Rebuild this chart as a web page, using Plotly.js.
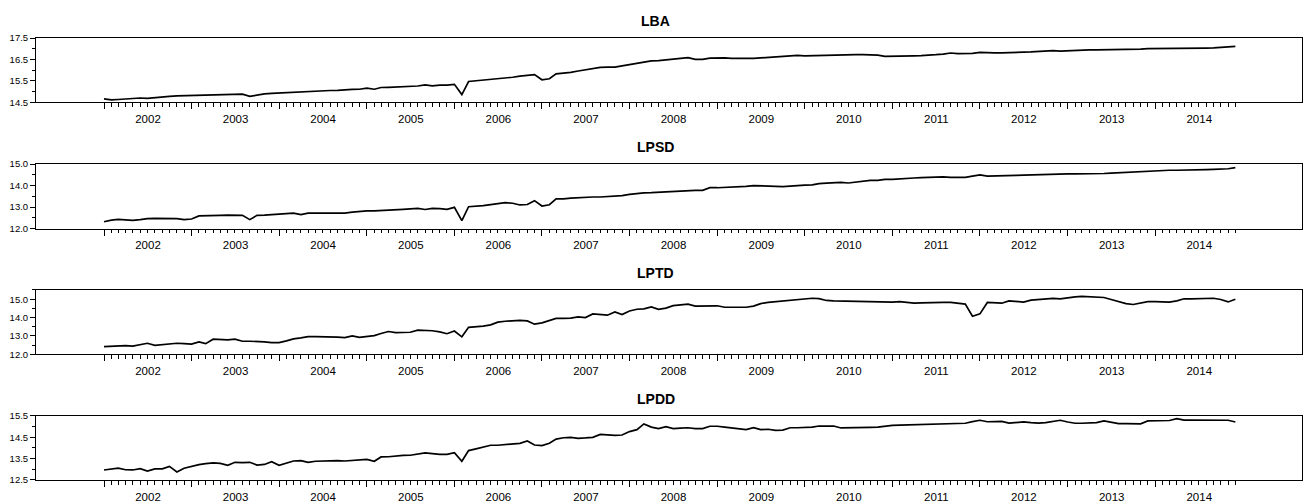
<!DOCTYPE html>
<html>
<head>
<meta charset="utf-8">
<script src="https://cdn.plot.ly/plotly-3.0.1.min.js"></script>
<style>html,body{margin:0;padding:0;background:#fff;}#chart{width:1304px;height:502px;}</style>
</head>
<body>
<div id="chart"></div>
<script>
// ---- data (monthly, Jan 2002 .. Dec 2014) ----
const startYear = 2002;
const yearLabels = ['2002','2003','2004','2005','2006','2007','2008','2009','2010','2011','2012','2013','2014'];
const seriesNames = ['LBA', 'LPSD', 'LPTD', 'LPDD'];

const LBA = [
14.66,14.61,14.63,14.65,14.69,14.70,14.68,14.72,14.76,14.78,14.80,14.81,
14.82,14.83,14.85,14.86,14.86,14.87,14.88,14.88,14.78,14.84,14.89,14.92,
14.94,14.95,14.96,14.98,15.00,15.04,15.05,15.05,15.06,15.09,15.10,15.11,
15.16,15.11,15.19,15.20,15.22,15.22,15.23,15.26,15.31,15.27,15.30,15.30,
15.34,14.86,15.47,15.50,15.53,15.56,15.61,15.64,15.67,15.72,15.77,15.79,
15.55,15.60,15.83,15.86,15.90,15.96,16.02,16.06,16.13,16.14,16.14,16.20,
16.26,16.34,16.40,16.43,16.44,16.48,16.52,16.53,16.58,16.50,16.50,16.56,
16.58,16.57,16.55,16.54,16.53,16.55,16.57,16.60,16.63,16.66,16.68,16.69,
16.67,16.68,16.70,16.70,16.70,16.71,16.72,16.72,16.72,16.72,16.70,16.64,
16.64,16.65,16.66,16.67,16.68,16.69,16.72,16.75,16.80,16.77,16.77,16.78,
16.83,16.81,16.81,16.81,16.81,16.82,16.84,16.85,16.88,16.90,16.91,16.89,
16.91,16.92,16.94,16.95,16.95,16.95,16.95,16.97,16.98,16.98,16.98,17.00,
17.00,17.00,17.00,17.00,17.01,17.02,17.03,17.03,17.04,17.06,17.11,17.11];

const LPSD = [
12.32,12.40,12.43,12.42,12.39,12.42,12.47,12.48,12.48,12.50,12.47,12.42,
12.45,12.59,12.59,12.62,12.62,12.63,12.63,12.62,12.42,12.62,12.63,12.65,
12.67,12.71,12.72,12.65,12.72,12.72,12.72,12.74,12.73,12.72,12.77,12.81,
12.83,12.83,12.84,12.85,12.87,12.90,12.92,12.94,12.89,12.94,12.93,12.90,
12.99,12.37,13.02,13.04,13.07,13.12,13.18,13.21,13.18,13.10,13.12,13.30,
13.05,13.11,13.38,13.38,13.42,13.44,13.47,13.47,13.47,13.48,13.49,13.53,
13.59,13.63,13.66,13.67,13.69,13.71,13.75,13.77,13.78,13.78,13.78,13.90,
13.90,13.91,13.93,13.94,13.96,14.00,13.98,13.96,13.95,13.95,13.97,14.01,
14.02,14.03,14.09,14.11,14.13,14.15,14.12,14.17,14.20,14.24,14.24,14.29,
14.29,14.30,14.33,14.35,14.37,14.39,14.41,14.40,14.38,14.38,14.38,14.44,
14.50,14.44,14.44,14.44,14.46,14.47,14.48,14.49,14.50,14.51,14.55,14.54,
14.54,14.54,14.54,14.54,14.55,14.56,14.58,14.60,14.62,14.64,14.66,14.68,
14.69,14.70,14.71,14.71,14.71,14.72,14.73,14.74,14.75,14.76,14.78,14.83];

const LPTD = [
12.42,12.44,12.45,12.47,12.45,12.51,12.60,12.49,12.53,12.56,12.60,12.58,
12.55,12.67,12.58,12.82,12.80,12.78,12.82,12.71,12.71,12.71,12.68,12.64,
12.64,12.73,12.84,12.89,12.96,12.96,12.96,12.95,12.93,12.91,13.00,12.92,
12.98,13.02,13.13,13.24,13.18,13.20,13.20,13.31,13.30,13.28,13.22,13.12,
13.27,12.95,13.47,13.50,13.53,13.60,13.75,13.80,13.82,13.85,13.82,13.64,
13.71,13.82,13.95,13.95,13.97,14.04,14.00,14.20,14.15,14.13,14.31,14.16,
14.36,14.45,14.47,14.58,14.45,14.51,14.65,14.68,14.73,14.62,14.63,14.64,
14.64,14.56,14.56,14.58,14.56,14.62,14.76,14.83,14.87,14.91,14.94,14.96,
15.02,15.05,15.03,14.93,14.91,14.90,14.89,14.87,14.86,14.85,14.84,14.84,
14.84,14.87,14.82,14.78,14.80,14.82,14.82,14.82,14.82,14.76,14.73,14.07,
14.20,14.82,14.82,14.78,14.91,14.88,14.84,14.95,14.98,15.00,15.04,15.02,
15.08,15.13,15.15,15.14,15.12,15.09,14.98,14.88,14.76,14.71,14.80,14.87,
14.87,14.87,14.84,14.91,15.02,15.02,15.04,15.05,15.05,14.98,14.85,15.00];

const LPDD = [
12.97,13.00,13.06,12.98,12.97,13.03,12.92,13.02,13.02,13.14,12.88,13.05,
13.14,13.22,13.27,13.30,13.28,13.19,13.33,13.31,13.33,13.20,13.23,13.36,
13.19,13.30,13.39,13.41,13.33,13.38,13.40,13.41,13.41,13.39,13.42,13.47,
13.47,13.38,13.58,13.59,13.63,13.65,13.66,13.72,13.77,13.74,13.70,13.70,
13.78,13.38,13.88,13.96,14.03,14.13,14.13,14.17,14.19,14.22,14.33,14.14,
14.11,14.22,14.42,14.48,14.50,14.45,14.47,14.50,14.64,14.60,14.59,14.61,
14.77,14.86,15.13,14.98,14.91,15.00,14.91,14.93,14.95,14.91,14.91,15.02,
15.02,14.98,14.95,14.91,14.86,14.95,14.86,14.88,14.83,14.84,14.95,14.95,
14.96,14.98,15.03,15.03,15.03,14.94,14.94,14.94,14.97,14.97,14.98,15.03,
15.06,15.07,15.08,15.10,15.12,15.13,15.11,15.14,15.16,15.17,15.16,15.24,
15.30,15.23,15.24,15.25,15.17,15.20,15.22,15.19,15.17,15.19,15.24,15.30,
15.22,15.16,15.16,15.17,15.19,15.27,15.20,15.14,15.14,15.15,15.13,15.27,
15.27,15.27,15.29,15.38,15.31,15.31,15.31,15.30,15.33,15.32,15.30,15.22];

const yRanges = [[14.5, 17.5], [12.0, 15.0], [12.0, 15.5], [12.5, 15.5]];
const yTick0  = [14.5, 12.0, 12.0, 12.5];

// ---- build ----
const seriesData = [LBA, LPSD, LPTD, LPDD];
function pad(n){ return (n < 10 ? '0' : '') + n; }
const months = [];
for (let k = 0; k < LBA.length; k++) {
  const yy = startYear + Math.floor(k / 12);
  months.push(yy + '-' + pad(k % 12 + 1) + '-01');
}
const yearStarts = yearLabels.map(y => y + '-01-01');

// axis range with padding around the data (as in the original graph)
function toMs(s){ const p = s.split('-'); return Date.UTC(+p[0], +p[1]-1, +p[2]); }
function fromMs(ms){ return new Date(ms).toISOString().replace('T',' ').replace('Z',''); }
const t0 = toMs(months[0]), t1 = toMs(months[months.length-1]);
const span = t1 - t0;
const xRange = [fromMs(t0 - span * 0.0601), fromMs(t1 + span * 0.0589)];

const domains = [[0.8545, 1.0], [0.5686, 0.7149], [0.2844, 0.4299], [0.0, 0.1448]];
const FONT = 'Arial, "Liberation Sans", Helvetica, sans-serif';

const data = [];
const layout = {
  width: 1304, height: 502,
  margin: {l: 36, r: 2, t: 38, b: 22},
  paper_bgcolor: '#ffffff', plot_bgcolor: '#ffffff',
  showlegend: false,
  font: {family: FONT, color: '#000'},
  annotations: []
};

seriesData.forEach((vals, i) => {
  const n = i + 1;
  const xa = n === 1 ? 'x' : 'x' + n;
  const ya = n === 1 ? 'y' : 'y' + n;
  data.push({
    x: months, y: vals, type: 'scatter', mode: 'lines',
    xaxis: xa, yaxis: ya,
    line: {color: '#000000', width: 1.7},
    hoverinfo: 'x+y'
  });
  layout['xaxis' + (n === 1 ? '' : n)] = {
    type: 'date', range: xRange, anchor: ya,
    showline: true, linecolor: '#000', linewidth: 1, mirror: true,
    showgrid: false, zeroline: false,
    tickmode: 'array', tickvals: yearStarts, ticktext: yearLabels,
    ticks: 'outside', ticklen: 6, tickwidth: 1, tickcolor: '#000',
    ticklabelshift: 44,
    tickfont: {family: FONT, size: 11.5, color: '#000'},
    minor: {tickmode: 'array', tickvals: months, ticks: 'outside', ticklen: 3.5, tickwidth: 1, tickcolor: '#000', showgrid: false}
  };
  layout['yaxis' + (n === 1 ? '' : n)] = {
    domain: domains[i], range: yRanges[i], anchor: xa,
    showline: true, linecolor: '#000', linewidth: 1, mirror: true,
    showgrid: false, zeroline: false,
    tick0: yTick0[i], dtick: 1, tickformat: '.1f',
    ticks: 'outside', ticklen: 5, tickwidth: 1, tickcolor: '#000',
    tickfont: {family: FONT, size: 9.5, color: '#000'},
    minor: {tick0: yTick0[i], dtick: 0.5, ticks: 'outside', ticklen: 3, tickwidth: 1, tickcolor: '#000', showgrid: false}
  };
  layout.annotations.push({
    text: '<b>' + seriesNames[i] + '</b>',
    xref: 'paper', yref: 'paper', x: 0.4895, y: domains[i][1],
    xanchor: 'center', yanchor: 'middle', yshift: 17, showarrow: false,
    font: {family: FONT, size: 14, color: '#000'}
  });
});

Plotly.newPlot('chart', data, layout, {displayModeBar: false, staticPlot: true});
</script>
</body>
</html>
